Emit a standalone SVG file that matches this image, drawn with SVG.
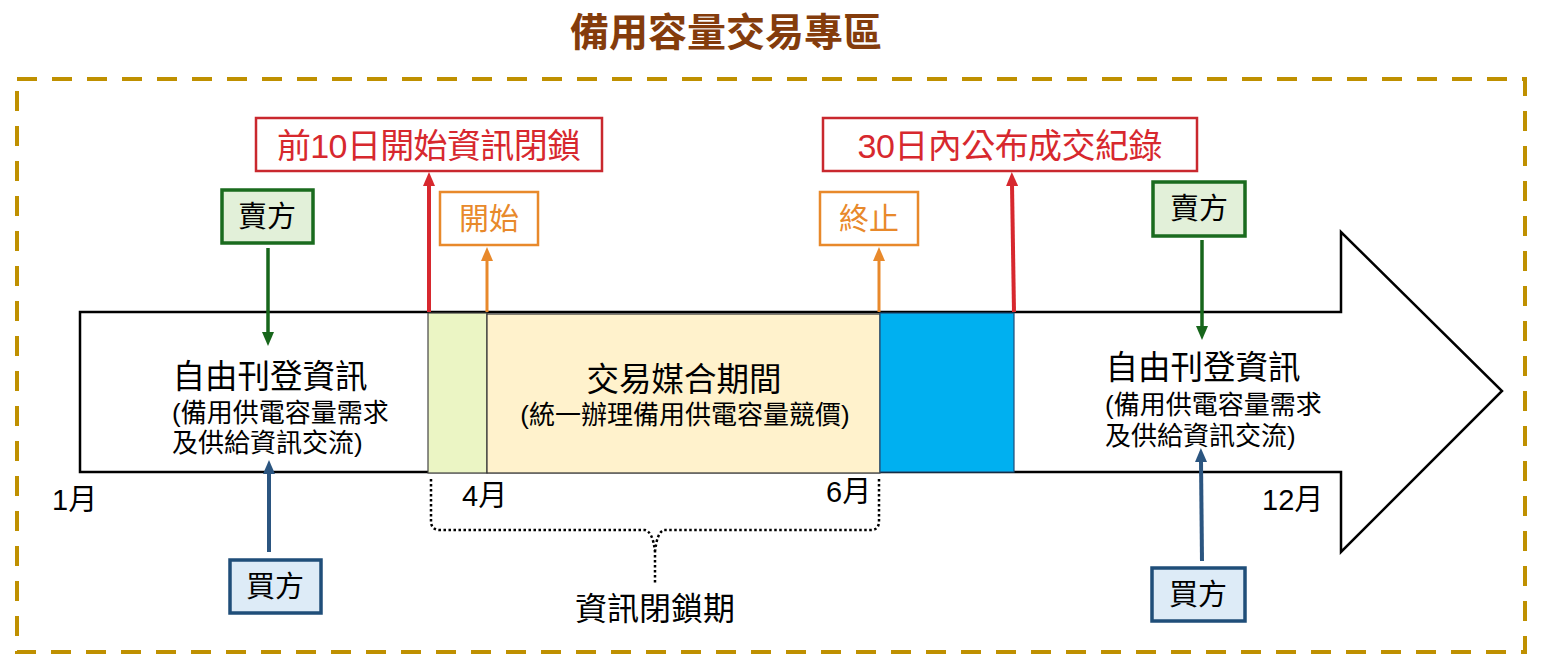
<svg xmlns="http://www.w3.org/2000/svg" width="1548" height="668" viewBox="0 0 1548 668">
<style>
text{font-family:"Liberation Sans","Noto Sans CJK TC",sans-serif;}
.t{fill:#000;}
.c{text-anchor:middle;}
.red{fill:#D7282E;}
.org{fill:#E8892B;}
.rbox{fill:#fff;stroke:#C9282E;stroke-width:2.5;}
.obox{fill:#fff;stroke:#E8892B;stroke-width:2.5;}
.gbox{fill:#E2F0D9;stroke:#1A6B1E;stroke-width:3.5;}
.bbox{fill:#DDEBF7;stroke:#1F4E79;stroke-width:3.5;}
</style>
<defs>
<marker id="mr" viewBox="0 0 14 12" markerWidth="14" markerHeight="12" refX="2" refY="6" orient="auto" markerUnits="userSpaceOnUse"><path d="M0,0 L14,6 L0,12 Z" fill="#D7282E"/></marker>
<marker id="mo" viewBox="0 0 14 12" markerWidth="14" markerHeight="12" refX="2" refY="6" orient="auto" markerUnits="userSpaceOnUse"><path d="M0,0 L14,6 L0,12 Z" fill="#E8892B"/></marker>
<marker id="mg" viewBox="0 0 14 12" markerWidth="14" markerHeight="12" refX="2" refY="6" orient="auto" markerUnits="userSpaceOnUse"><path d="M0,0 L14,6 L0,12 Z" fill="#17661B"/></marker>
<marker id="mb" viewBox="0 0 14 12" markerWidth="14" markerHeight="12" refX="2" refY="6" orient="auto" markerUnits="userSpaceOnUse"><path d="M0,0 L14,6 L0,12 Z" fill="#2B5580"/></marker>
</defs>

<rect width="1548" height="668" fill="#fff"/>

<text id="title" x="726" y="46" class="c" font-size="39" font-weight="bold" fill="#843C0C">備用容量交易專區</text>

<rect id="frame" x="17" y="79" width="1508" height="573" fill="none" stroke="#BF9000" stroke-width="4" stroke-dasharray="20 15"/>

<g id="timeline">
<path d="M80,312 H1341 V232 L1502,391 L1341,552 V472 H80 Z" fill="#fff" stroke="#000" stroke-width="2.5"/>
</g>

<g id="lockPre"><rect x="428" y="313" width="59" height="160" fill="#EBF5C4" stroke="#444" stroke-width="1.2"/></g>
<g id="matching">
<rect x="487" y="314" width="393" height="159" fill="#FFF2CC" stroke="#333" stroke-width="1.2"/>
<text x="684" y="391" class="t c" font-size="32.5">交易媒合期間</text>
<text x="685" y="424" class="t c" font-size="26">(統一辦理備用供電容量競價)</text>
</g>
<g id="lockPost"><rect x="880" y="313" width="134" height="159" fill="#00B0F0" stroke="#1F4E79" stroke-width="1.2"/></g>

<g id="freeLeft">
<text x="270" y="388" class="t c" font-size="32.5">自由刊登資訊</text>
<text x="172" y="422" class="t" font-size="26">(備用供電容量需求</text>
<text x="172" y="452" class="t" font-size="26">及供給資訊交流)</text>
</g>
<g id="freeRight">
<text x="1203" y="379" class="t c" font-size="32.5">自由刊登資訊</text>
<text x="1105" y="414" class="t" font-size="26">(備用供電容量需求</text>
<text x="1105" y="445" class="t" font-size="26">及供給資訊交流)</text>
</g>

<g id="months" font-size="29">
<text x="52" y="510" class="t">1月</text>
<text x="462" y="506" class="t">4月</text>
<text x="826" y="502" class="t">6月</text>
<text x="1262" y="510" class="t">12月</text>
</g>

<g id="lockStartNote">
<rect x="256" y="118" width="346" height="53" class="rbox"/>
<text x="429" y="158" class="red c" font-size="34" textLength="304" lengthAdjust="spacing">前10日開始資訊閉鎖</text>
</g>
<g id="publishNote">
<rect x="823" y="118" width="374" height="53" class="rbox"/>
<text x="1010" y="158" class="red c" font-size="34" textLength="305" lengthAdjust="spacing">30日內公布成交紀錄</text>
</g>
<g id="startNote">
<rect x="440" y="192" width="98" height="53" class="obox"/>
<text x="489" y="229" class="org c" font-size="30">開始</text>
</g>
<g id="endNote">
<rect x="820" y="192" width="98" height="53" class="obox"/>
<text x="869" y="229" class="org c" font-size="30">終止</text>
</g>
<g id="sellerLeft">
<rect x="222" y="190" width="91" height="53" class="gbox"/>
<text x="267" y="227" class="t c" font-size="29">賣方</text>
</g>
<g id="sellerRight">
<rect x="1153" y="182" width="92" height="54" class="gbox"/>
<text x="1199" y="219" class="t c" font-size="29">賣方</text>
</g>
<g id="buyerLeft">
<rect x="230" y="560" width="91" height="53" class="bbox"/>
<text x="275" y="597" class="t c" font-size="29">買方</text>
</g>
<g id="buyerRight">
<rect x="1152" y="568" width="93" height="53" class="bbox"/>
<text x="1198" y="605" class="t c" font-size="29">買方</text>
</g>

<g id="lockLabel">
<text x="655" y="620" class="t c" font-size="32">資訊閉鎖期</text>
</g>

<g id="connectors" fill="none">
<line x1="429" y1="312" x2="429" y2="184" stroke="#D7282E" stroke-width="4" marker-end="url(#mr)"/>
<line x1="1014" y1="312" x2="1012" y2="184" stroke="#D7282E" stroke-width="4" marker-end="url(#mr)"/>
<line x1="487" y1="312" x2="487" y2="259" stroke="#E8892B" stroke-width="3" marker-end="url(#mo)"/>
<line x1="879" y1="312" x2="879" y2="259" stroke="#E8892B" stroke-width="3" marker-end="url(#mo)"/>
<line x1="268" y1="248" x2="268" y2="334" stroke="#17661B" stroke-width="3.5" marker-end="url(#mg)"/>
<line x1="1202" y1="240" x2="1202" y2="328" stroke="#17661B" stroke-width="3.5" marker-end="url(#mg)"/>
<line x1="269" y1="552" x2="269" y2="472" stroke="#2B5580" stroke-width="4" marker-end="url(#mb)"/>
<line x1="1202" y1="561" x2="1201" y2="460" stroke="#2B5580" stroke-width="4" marker-end="url(#mb)"/>
<path d="M431,479 V521 Q431,530 440,530 H645 Q653,532 655,552 V585 M655,552 Q657,532 664,530 H871 Q879,530 879,521 V479" stroke="#000" stroke-width="2.5" stroke-dasharray="2.5 2.5"/>
</g>
</svg>
